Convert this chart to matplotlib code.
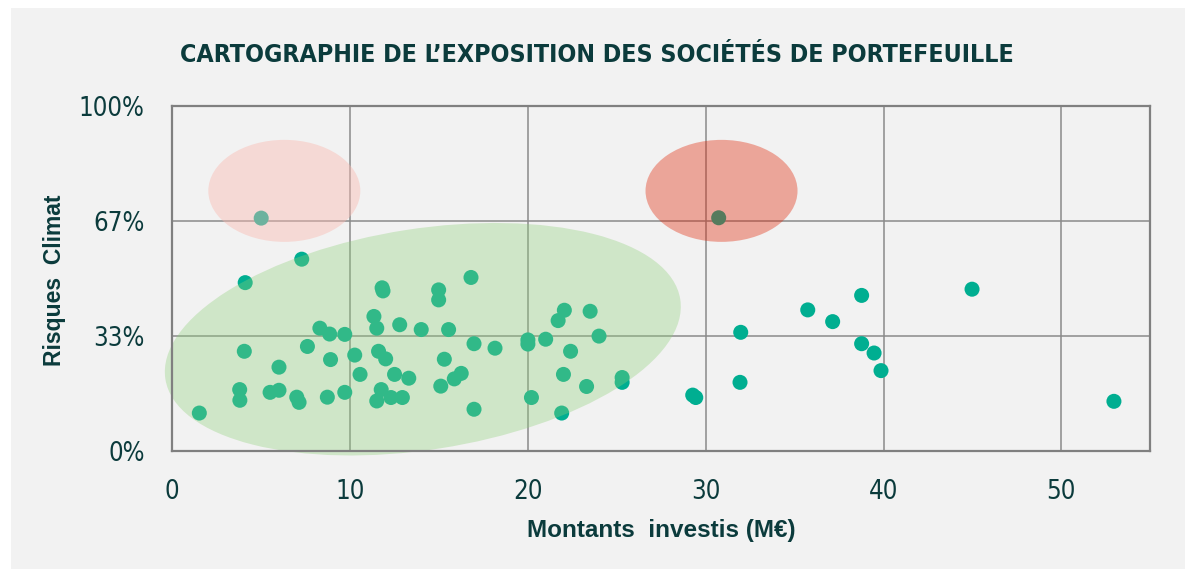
import matplotlib
matplotlib.use("Agg")
import matplotlib.pyplot as plt
from matplotlib.patches import Ellipse, Rectangle
from matplotlib.transforms import ScaledTranslation
from matplotlib import font_manager

# ---------------- data ----------------
invest_m_eur = [
    5.0, 7.28, 4.1, 16.8, 11.8, 11.85, 14.98, 14.98, 11.34, 11.5, 12.79, 14.0,
    15.54, 8.3, 8.85, 9.7, 16.97, 18.15, 20.0, 20.0, 4.05, 7.6, 8.9, 10.26,
    11.6, 12.0, 15.3, 6.0, 10.56, 12.5, 13.3, 16.25, 15.86, 15.1, 3.79, 3.8,
    5.5, 6.0, 7.0, 7.13, 8.72, 9.7, 11.75, 11.5, 12.3, 12.94, 16.97, 20.2, 1.52,
    30.73, 22.05, 21.7, 23.5, 24.0, 21.0, 22.4, 22.0, 23.3, 25.3, 25.3, 21.9,
    29.27, 29.44, 31.97, 31.93, 35.74, 37.14, 38.77, 38.77, 39.47, 39.86,
    44.98, 52.96,
]
risque_climat_pct = [
    67.5, 55.6, 48.8, 50.3, 47.3, 46.4, 46.7, 43.8, 39.0, 35.6, 36.6, 35.2,
    35.2, 35.6, 33.9, 33.8, 31.1, 29.8, 32.2, 31.0, 28.9, 30.3, 26.5, 27.8,
    28.9, 26.7, 26.6, 24.3, 22.2, 22.2, 21.1, 22.5, 20.9, 18.8, 17.8, 14.7,
    17.0, 17.6, 15.6, 14.1, 15.6, 17.0, 17.8, 14.5, 15.5, 15.5, 12.1, 15.5, 11.0,
    67.6, 40.8, 37.8, 40.5, 33.3, 32.4, 28.9, 22.2, 18.7, 21.3, 19.9, 11.0,
    16.2, 15.5, 34.4, 19.9, 40.9, 37.5, 45.1, 31.1, 28.4, 23.3,
    46.9, 14.4,
]
x_ticks = [0, 10, 20, 30, 40, 50]
y_ticks = [0, 100 / 3, 200 / 3, 100]
y_tick_labels = ["0%", "33%", "67%", "100%"]

# zones (centre in data units, size in inches, angle in degrees)
zone_centres = [(14.09, 32.4), (6.3, 75.4), (30.89, 75.4)]
zone_sizes = [(5.21, 2.21, 8.8), (1.52, 1.02, 0.0), (1.52, 1.02, 0.0)]
zone_colors = [("#8FD07A", 0.35), ("#FAB9B0", 0.44), ("#E0280A", 0.38)]

title = "CARTOGRAPHIE DE L’EXPOSITION DES SOCIÉTÉS DE PORTEFEUILLE"
xlabel = "Montants  investis (M€)"
ylabel = "Risques  Climat"

# ---------------- fonts ----------------
avail = {f.name for f in font_manager.fontManager.ttflist}
narrow = "Liberation Sans Narrow" if "Liberation Sans Narrow" in avail else "DejaVu Sans"
wide = "Liberation Sans" if "Liberation Sans" in avail else "DejaVu Sans"

txt = "#0B3B3C"
bg = "#F2F2F2"

fig = plt.figure(figsize=(11.85, 5.69), dpi=100, facecolor="white")
fig.patches.append(Rectangle((11 / 1185, 0), 1, (569 - 8) / 569,
                             transform=fig.transFigure, facecolor=bg,
                             edgecolor="none", zorder=-10))

ax = fig.add_axes([172.3 / 1185, 1 - 451 / 569, (1150.2 - 172.3) / 1185, (451 - 106) / 569])
ax.set_facecolor(bg)
ax.set_xlim(0, 55)
ax.set_ylim(0, 100)

ax.set_xticks(x_ticks)
ax.set_xticklabels([str(t) for t in x_ticks], fontfamily=narrow, fontstretch="condensed",
                   fontsize=18.5, color=txt)
ax.set_yticks(y_ticks)
ax.set_yticklabels(y_tick_labels, fontfamily=narrow, fontstretch="condensed",
                   fontsize=18.5, color=txt)
ax.tick_params(length=0, pad=20, axis="y")
ax.tick_params(length=0, pad=20, axis="x")

ax.grid(True, color="#8A8A8A", linewidth=1.1, zorder=0)
ax.set_axisbelow(True)
for s in ax.spines.values():
    s.set_color("#808080")
    s.set_linewidth(1.6)
    s.set_zorder(5)

ax.scatter(invest_m_eur, risque_climat_pct, s=117, color="#00AE91",
           edgecolors="none", zorder=2)

for (cx, cy), (w, h, ang), (col, a) in zip(zone_centres, zone_sizes, zone_colors):
    e = Ellipse((0, 0), width=w, height=h, angle=ang,
                transform=fig.dpi_scale_trans + ScaledTranslation(cx, cy, ax.transData),
                facecolor=col, alpha=a, edgecolor="none", zorder=3, clip_on=False)
    ax.add_patch(e)

t = fig.text(597 / 1185, 1 - 55 / 569, title, fontfamily=narrow, fontstretch="condensed",
             fontweight="bold", fontsize=18, color=txt, ha="center", va="center")
fig.text(661 / 1185, 1 - 530 / 569, xlabel, fontfamily=wide, fontweight="bold",
         fontsize=17.5, color=txt, ha="center", va="center")
fig.text(55 / 1185, 1 - 280 / 569, ylabel, fontfamily=wide, fontweight="bold",
         fontsize=16.5, color=txt, ha="center", va="center", rotation=90)

# fit title width to reference (~835 px)
fig.canvas.draw()
bb = t.get_window_extent()
t.set_fontsize(18 * 835 / bb.width)

fig.savefig("out.png", dpi=100, facecolor="white")
